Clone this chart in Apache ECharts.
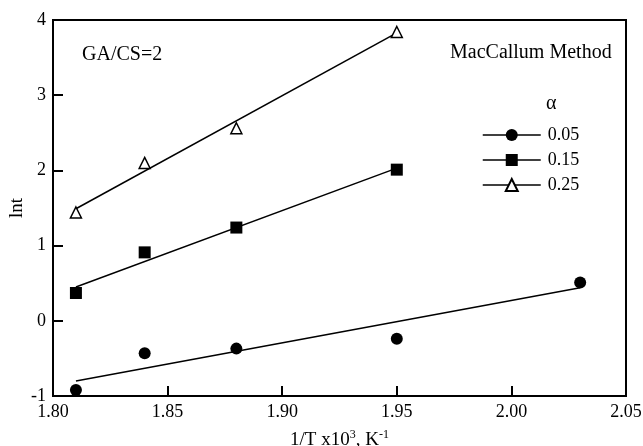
<!DOCTYPE html>
<html>
<head>
<meta charset="utf-8">
<script src="https://cdn.jsdelivr.net/npm/echarts@6/dist/echarts.min.js"></script>
<style>
  html, body { margin: 0; padding: 0; background: #fff; }
  #chart { width: 643px; height: 446px; }
</style>
</head>
<body>
<div id="chart"></div>
<script>
// 数据 (1/T x10^3, lnt)
const xTicks = [1.80, 1.85, 1.90, 1.95, 2.00, 2.05];
const yTicks = [-1, 0, 1, 2, 3, 4];
const alphaNames = ["0.05", "0.15", "0.25"];
const pts005 = [[1.81, -0.92], [1.84, -0.43], [1.88, -0.37], [1.95, -0.24], [2.03, 0.51]];
const pts015 = [[1.81, 0.37], [1.84, 0.91], [1.88, 1.24], [1.95, 2.01]];
const pts025 = [[1.81, 1.44], [1.84, 2.10], [1.88, 2.56], [1.95, 3.84]];
// 拟合直线端点
const fit005 = [[1.81, -0.80], [2.03, 0.44]];
const fit015 = [[1.81, 0.45], [1.95, 2.03]];
const fit025 = [[1.81, 1.49], [1.95, 3.83]];

const FONT = "Liberation Serif";
const myChart = echarts.init(document.getElementById("chart"));

function pointSeries(name, data, symbol, size, filled) {
    return {
        name: name,
        type: "line",
        data: data,
        symbol: symbol,
        symbolSize: size,
        showSymbol: true,
        lineStyle: { width: 0, opacity: 0 },
        itemStyle: filled
            ? { color: "#000", borderColor: "#000", borderWidth: 0 }
            : { color: "#fff", borderColor: "#000", borderWidth: 1.5 },
        z: 5,
        animation: false
    };
}
function fitSeries(data) {
    return {
        type: "line",
        data: data,
        symbol: "none",
        lineStyle: { color: "#000", width: 1.5 },
        silent: true,
        z: 3,
        animation: false
    };
}

const option = {
    backgroundColor: "#fff",
    animation: false,
    grid: {
        left: 53, right: 17, top: 20, bottom: 50,
        containLabel: false,
        outerBoundsMode: "none",
        show: true, borderColor: "#000", borderWidth: 2
    },
    xAxis: {
        type: "value",
        min: xTicks[0], max: xTicks[xTicks.length - 1], interval: 0.05,
        name: "{t|1/T x10}{s|3}{t|, K}{s|-1}",
        nameLocation: "middle",
        nameGap: 33,
        nameMoveOverlap: false,
        nameTextStyle: {
            rich: {
                t: { fontFamily: FONT, fontSize: 19, color: "#000", verticalAlign: "bottom" },
                s: { fontFamily: FONT, fontSize: 12, color: "#000", verticalAlign: "top", padding: [0, 0, 9, 0] }
            }
        },
        axisLine: { onZero: false, lineStyle: { color: "#000", width: 2 } },
        axisTick: { inside: true, length: 10, lineStyle: { color: "#000", width: 2 } },
        axisLabel: {
            fontFamily: FONT, fontSize: 18, color: "#000", margin: 7,
            formatter: v => v.toFixed(2)
        },
        splitLine: { show: false }
    },
    yAxis: {
        type: "value",
        min: yTicks[0], max: yTicks[yTicks.length - 1], interval: 1,
        name: "lnt",
        nameLocation: "middle",
        nameGap: 26,
        nameMoveOverlap: false,
        nameTextStyle: { fontFamily: FONT, fontSize: 19, color: "#000" },
        axisLine: { onZero: false, lineStyle: { color: "#000", width: 2 } },
        axisTick: { inside: true, length: 10, lineStyle: { color: "#000", width: 2 } },
        axisLabel: { fontFamily: FONT, fontSize: 18, color: "#000", margin: 7 },
        splitLine: { show: false }
    },
    legend: {
        data: alphaNames,
        orient: "vertical",
        left: 477,
        top: 121,
        itemWidth: 58,
        itemHeight: 15,
        itemGap: 7,
        selectedMode: false,
        textStyle: { fontFamily: FONT, fontSize: 18, color: "#000", padding: [0, 0, 0, 2] },
        lineStyle: { color: "#000", width: 1.5, opacity: 1 }
    },
    graphic: [
        { type: "text", left: 82, top: 45, style: { text: "GA/CS=2", font: "20px " + FONT, fill: "#000" } },
        { type: "text", left: 450, top: 43, style: { text: "MacCallum Method", font: "20px " + FONT, fill: "#000" } },
        { type: "text", left: 546, top: 94, style: { text: "α", font: "20px " + FONT, fill: "#000" } }
    ],
    series: [
        fitSeries(fit005),
        fitSeries(fit015),
        fitSeries(fit025),
        pointSeries(alphaNames[0], pts005, "circle", 12, true),
        pointSeries(alphaNames[1], pts015, "rect", 12, true),
        pointSeries(alphaNames[2], pts025, "triangle", 11, false)
    ]
};
myChart.setOption(option);
</script>
</body>
</html>
